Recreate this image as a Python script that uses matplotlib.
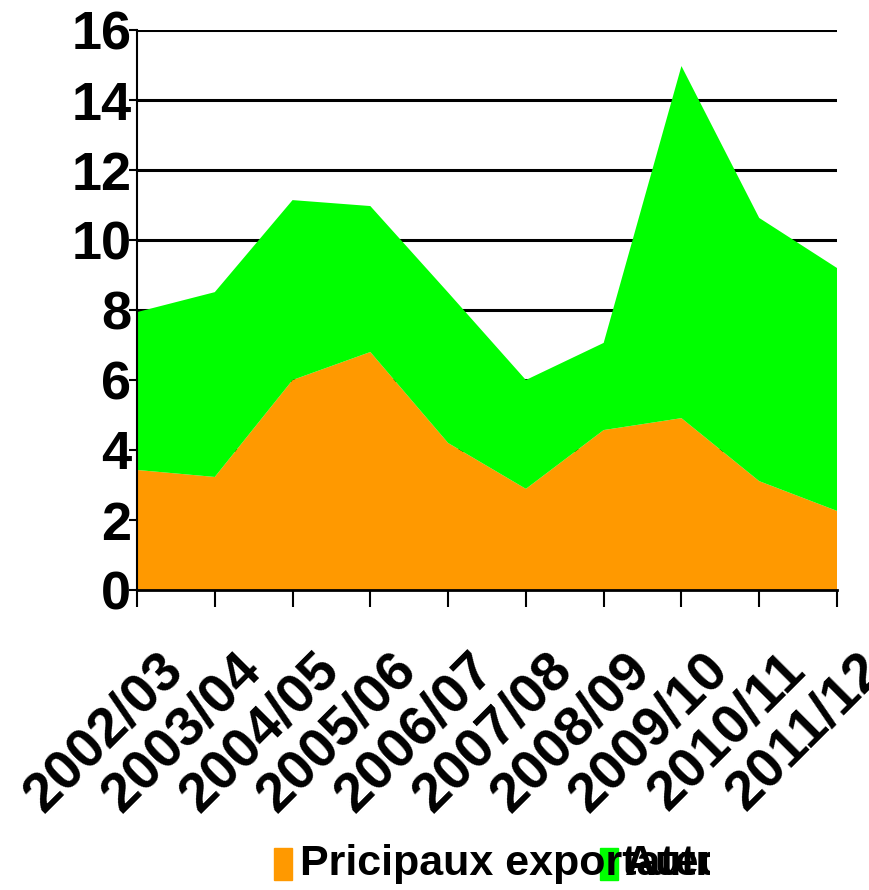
import numpy as np
import matplotlib.pyplot as plt
from matplotlib.transforms import ScaledTranslation
from matplotlib.patches import Rectangle

# values (stacked area)
seasons = ['2002/03', '2003/04', '2004/05', '2005/06', '2006/07',
           '2007/08', '2008/09', '2009/10', '2010/11', '2011/12']
principaux = [3.43, 3.23, 6.0, 6.8, 4.2, 2.89, 4.57, 4.91, 3.11, 2.26]
autres = [4.51, 5.28, 5.14, 4.17, 4.3, 3.11, 2.49, 10.06, 7.52, 6.94]

plt.rcParams['font.family'] = ['Liberation Sans', 'DejaVu Sans']
plt.rcParams['font.weight'] = 'bold'

fig = plt.figure(figsize=(8.69, 8.90), dpi=100)
ax = fig.add_axes([137/869, 1-590/890, 700/869, 560/890])

x = np.arange(len(seasons))
ax.stackplot(x, principaux, autres, colors=['#FF9900', '#00FF00'], zorder=2)

ax.set_xlim(0, len(seasons)-1)
ax.set_ylim(0, 16)
ax.set_yticks(range(0, 17, 2))
ax.yaxis.grid(True, color='black', linewidth=2.2, zorder=0)
ax.set_axisbelow(True)
for s in ['top', 'right']:
    ax.spines[s].set_visible(False)
ax.spines['left'].set_linewidth(1.5)
ax.spines['bottom'].set_linewidth(2)
ax.spines['left'].set_zorder(3)
ax.spines['bottom'].set_zorder(3)

ax.tick_params(axis='y', length=6, width=1.5, pad=-2, labelsize=39)
ax.tick_params(axis='x', length=12, width=1.5, pad=0, labelsize=40)
for lab in ax.get_yticklabels():
    lab.set_fontweight('bold')

ax.set_xticks(x)
ax.set_xticklabels(seasons, rotation=45, ha='right', va='center',
                   rotation_mode='anchor', fontweight='bold')
off = ScaledTranslation(38/100, -56/100, fig.dpi_scale_trans)
for lab in ax.get_xticklabels():
    lab.set_transform(lab.get_transform() + off)

# legend drawn by hand, the two entries overlap as in the original
clip = Rectangle((0, 0), 710/869, 1, transform=fig.transFigure, visible=False)
fig.add_artist(clip)
fig.patches.append(Rectangle((274/869, 1-880/890), 18/869, 32/890,
                             transform=fig.transFigure, color='#FF9900'))
t1 = fig.text(300/869, 1-864/890, 'Pricipaux exportateurs', fontsize=31,
              fontweight='bold', va='center', ha='left')
fig.patches.append(Rectangle((600/869, 1-880/890), 18/869, 32/890,
                             transform=fig.transFigure, color='#00FF00', zorder=3))
t2 = fig.text(625/869, 1-864/890, 'Autres', fontsize=31,
              fontweight='bold', va='center', ha='left', zorder=4)
t1.set_clip_path(clip)
t2.set_clip_path(clip)

fig.savefig('out.png', dpi=100)
